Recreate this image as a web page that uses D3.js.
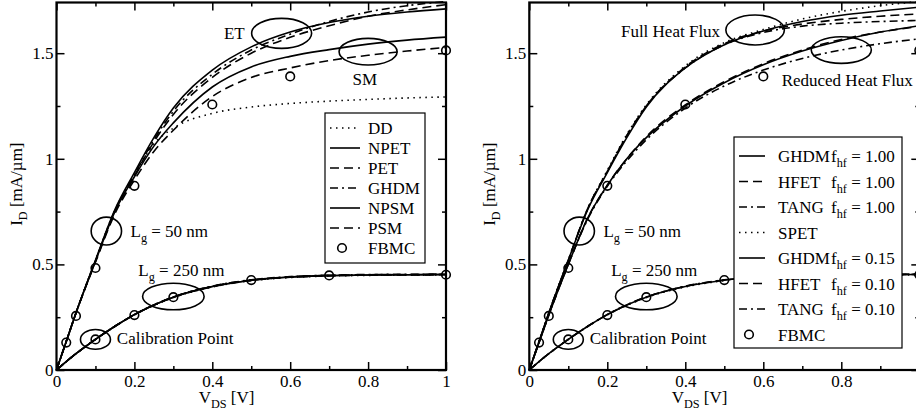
<!DOCTYPE html>
<html>
<head>
<meta charset="utf-8">
<script src="https://cdn.jsdelivr.net/npm/d3@7"></script>
<style>
 body { margin: 0; background: #fff; }
</style>
</head>
<body>
<script>
 // drain voltage grid shared by all curves
 var vds = [0, 0.025, 0.05, 0.1, 0.15, 0.2, 0.25, 0.3, 0.4, 0.5, 0.6, 0.7, 0.8, 0.9, 1.0];

 // left panel, Lg = 50 nm
 var dd50   = [0, 0.135, 0.27, 0.52, 0.755, 0.92, 1.07, 1.145, 1.215, 1.245, 1.262, 1.273, 1.281, 1.288, 1.293];
 var npet50 = [0, 0.135, 0.27, 0.52, 0.76, 0.935, 1.10, 1.24, 1.42, 1.53, 1.60, 1.645, 1.675, 1.695, 1.71];
 var pet50  = [0, 0.135, 0.27, 0.515, 0.75, 0.92, 1.08, 1.21, 1.385, 1.50, 1.575, 1.63, 1.675, 1.705, 1.73];
 var ghdm50 = [0, 0.135, 0.27, 0.515, 0.755, 0.925, 1.09, 1.225, 1.40, 1.515, 1.59, 1.65, 1.695, 1.725, 1.745];
 var npsm50 = [0, 0.135, 0.27, 0.515, 0.75, 0.915, 1.06, 1.17, 1.34, 1.435, 1.485, 1.517, 1.543, 1.562, 1.576];
 var psm50  = [0, 0.135, 0.27, 0.51, 0.74, 0.90, 1.035, 1.135, 1.295, 1.385, 1.43, 1.465, 1.49, 1.51, 1.527];

 // left panel, Lg = 250 nm
 var dd250   = [0, 0.04, 0.077, 0.145, 0.206, 0.261, 0.306, 0.343, 0.393, 0.423, 0.438, 0.445, 0.448, 0.449, 0.45];
 var npet250 = [0, 0.04, 0.077, 0.145, 0.207, 0.262, 0.308, 0.345, 0.395, 0.425, 0.44, 0.447, 0.45, 0.451, 0.452];
 var pet250  = [0, 0.04, 0.077, 0.145, 0.207, 0.262, 0.308, 0.345, 0.396, 0.426, 0.441, 0.448, 0.451, 0.452, 0.453];
 var ghdm250 = [0, 0.04, 0.077, 0.145, 0.207, 0.263, 0.309, 0.346, 0.397, 0.427, 0.442, 0.449, 0.452, 0.453, 0.454];
 var npsm250 = [0, 0.04, 0.077, 0.145, 0.207, 0.262, 0.308, 0.345, 0.395, 0.425, 0.44, 0.447, 0.45, 0.451, 0.452];
 var psm250  = [0, 0.04, 0.077, 0.145, 0.207, 0.262, 0.307, 0.344, 0.394, 0.424, 0.439, 0.446, 0.449, 0.45, 0.451];

 // right panel, Lg = 50 nm
 var ghdm1_50  = [0, 0.135, 0.27, 0.52, 0.76, 0.935, 1.10, 1.245, 1.43, 1.54, 1.605, 1.65, 1.68, 1.70, 1.718];
 var hfet1_50  = [0, 0.135, 0.27, 0.52, 0.765, 0.94, 1.11, 1.25, 1.435, 1.545, 1.605, 1.638, 1.66, 1.675, 1.686];
 var tang1_50  = [0, 0.135, 0.27, 0.52, 0.765, 0.94, 1.11, 1.25, 1.43, 1.54, 1.598, 1.628, 1.642, 1.65, 1.655];
 var spet50    = [0, 0.135, 0.27, 0.52, 0.765, 0.945, 1.115, 1.255, 1.44, 1.55, 1.612, 1.662, 1.698, 1.725, 1.745];
 var ghdm15_50 = [0, 0.13, 0.26, 0.50, 0.72, 0.875, 1.0, 1.10, 1.25, 1.36, 1.445, 1.51, 1.56, 1.60, 1.63];
 var hfet10_50 = [0, 0.13, 0.26, 0.50, 0.72, 0.875, 1.0, 1.105, 1.255, 1.365, 1.45, 1.515, 1.565, 1.60, 1.627];
 var tang10_50 = [0, 0.13, 0.26, 0.50, 0.715, 0.87, 0.99, 1.09, 1.24, 1.345, 1.42, 1.475, 1.515, 1.545, 1.568];

 // FBMC reference points
 var fbmcV50  = [0.025, 0.05, 0.1, 0.2, 0.4, 0.6, 1.0];
 var fbmcI50  = [0.13, 0.256, 0.483, 0.872, 1.257, 1.39, 1.513];
 var fbmcV250 = [0.1, 0.2, 0.3, 0.5, 0.7, 1.0];
 var fbmcI250 = [0.145, 0.26, 0.345, 0.426, 0.448, 0.451];

 var xTicks = [0, 0.2, 0.4, 0.6, 0.8, 1];
 var xTickLabels = ["0", "0.2", "0.4", "0.6", "0.8", "1"];
 var xTickLabelsRight = ["0", "0.2", "0.4", "0.6", "0.8", ""];
 var xMinor = [0.1, 0.3, 0.5, 0.7, 0.9];
 var yTicks = [0, 0.5, 1, 1.5];
 var yTickLabels = ["0", "0.5", "1", "1.5"];
 var yMinor = [0.25, 0.75, 1.25];

 var dashes = {solid: null, dashed: "9,5", dashdot: "8,4,2,4", dotted: "1.5,4.5"};
 var serif = "'Liberation Serif'";

 var w = 916;
 var h = 416;
 var svg = d3.select("body")
         .append("svg")
         .attr("width", w)
         .attr("height", h);

 function txt(sel, x, y) {
     return sel.append("text").attr("x", x).attr("y", y)
             .attr("font-size", 17).style("font-family", serif).attr("fill", "#000");
 }
 function sub(t, main, s, rest) {
     t.append("tspan").text(main);
     t.append("tspan").attr("font-size", "0.72em").attr("dy", 5).text(s);
     if (rest) t.append("tspan").attr("dy", -5).text(rest);
 }

 function drawPanel(x0, x1, series, xLabels) {
     var x = d3.scaleLinear().domain([0, 1]).range([x0, x1]);
     var y = d3.scaleLinear().domain([0, 1.74]).range([370, 2.5]);
     var g = svg.append("g");

     var line = d3.line()
             .x(function (d) { return x(d[0]); })
             .y(function (d) { return y(d[1]); })
             .curve(d3.curveMonotoneX);

     g.selectAll("path.curve")
             .data(series)
             .enter()
             .append("path")
             .attr("class", "curve")
             .attr("d", function (s) {
                 return line(vds.map(function (v, i) { return [v, s.vals[i]]; }));
             })
             .attr("fill", "none")
             .attr("stroke", "#000")
             .attr("stroke-width", 1.6)
             .attr("stroke-dasharray", function (s) { return dashes[s.style]; });

     var pts = fbmcV50.map(function (v, i) { return [v, fbmcI50[i]]; })
             .concat(fbmcV250.map(function (v, i) { return [v, fbmcI250[i]]; }));
     g.selectAll("circle.fbmc")
             .data(pts)
             .enter()
             .append("circle")
             .attr("class", "fbmc")
             .attr("cx", function (d) { return x(d[0]); })
             .attr("cy", function (d) { return y(d[1]); })
             .attr("r", 4.3)
             .attr("fill", "none")
             .attr("stroke", "#000")
             .attr("stroke-width", 1.6);

     // axes, ticks pointing inward on all four sides
     function ax(a, tx, ty, len, vals, labels) {
         var sel = g.append("g")
                 .attr("transform", "translate(" + tx + "," + ty + ")")
                 .call(a.tickValues(vals).tickSize(-len).tickPadding(5)
                         .tickFormat(function (d, i) { return labels ? labels[i] : ""; }));
         sel.select(".domain").remove();
         sel.selectAll("line").attr("stroke", "#000").attr("stroke-width", 1.5);
         sel.selectAll("text").attr("font-size", 17).style("font-family", serif).attr("fill", "#000");
         return sel;
     }
     ax(d3.axisBottom(x), 0, y(0), 8, xTicks, xLabels);
     ax(d3.axisBottom(x), 0, y(0), 4, xMinor);
     ax(d3.axisTop(x), 0, y.range()[1], 8, xTicks);
     ax(d3.axisTop(x), 0, y.range()[1], 4, xMinor);
     ax(d3.axisLeft(y), x0, 0, 8, yTicks, yTickLabels).selectAll("text").attr("dx", 2);
     ax(d3.axisLeft(y), x0, 0, 4, yMinor);
     ax(d3.axisRight(y), x1, 0, 8, yTicks);
     ax(d3.axisRight(y), x1, 0, 4, yMinor);

     g.append("rect")
             .attr("x", x0).attr("y", y.range()[1])
             .attr("width", x1 - x0).attr("height", y(0) - y.range()[1])
             .attr("fill", "none").attr("stroke", "#000").attr("stroke-width", 2.2);

     // axis titles
     sub(txt(g, x(0.365), 403), "V", "DS", "  [V]");
     var yt = txt(g, 0, 0)
             .attr("transform", "translate(" + (x0 - 34.5) + "," + y(0.88) + ") rotate(-90)")
             .attr("text-anchor", "middle");
     sub(yt, "I", "D", "  [mA/\u00b5m]");

     return {g: g, x: x, y: y};
 }

 function ellipse(p, cx, cy, rx, ry) {
     p.g.append("ellipse")
             .attr("cx", p.x(cx)).attr("cy", p.y(cy))
             .attr("rx", p.x(cx + rx) - p.x(cx)).attr("ry", p.y(cy) - p.y(cy + ry))
             .attr("fill", "none").attr("stroke", "#000").attr("stroke-width", 1.6);
 }
 function label(p, vx, vy) {
     return txt(p.g, p.x(vx), p.y(vy));
 }
 function commonNotes(p) {
     ellipse(p, 0.128, 0.658, 0.039, 0.066);
     sub(label(p, 0.19, 0.632), "L", "g", " = 50 nm");
     ellipse(p, 0.3, 0.348, 0.079, 0.063);
     sub(label(p, 0.21, 0.445), "L", "g", " = 250 nm");
     ellipse(p, 0.1, 0.145, 0.0385, 0.047);
     label(p, 0.155, 0.123).text("Calibration Point");
 }

 function drawLegend(p, bx, by, bw, bh, rows, rowY0, rowStep, sx0, sx1, tx, fx) {
     p.g.append("rect").attr("x", bx).attr("y", by).attr("width", bw).attr("height", bh)
             .attr("fill", "#fff").attr("stroke", "#000").attr("stroke-width", 1.2);
     rows.forEach(function (r, i) {
         var ry = rowY0 + i * rowStep;
         if (r.style === "circle") {
             p.g.append("circle").attr("cx", (sx0 + sx1) / 2 - 3).attr("cy", ry).attr("r", 4.3)
                     .attr("fill", "none").attr("stroke", "#000").attr("stroke-width", 1.6);
         } else {
             p.g.append("line").attr("x1", sx0).attr("x2", sx1).attr("y1", ry).attr("y2", ry)
                     .attr("stroke", "#000").attr("stroke-width", 1.6)
                     .attr("stroke-dasharray", dashes[r.style]);
         }
         txt(p.g, tx, ry + 6).text(r.name);
         if (r.f) {
             sub(txt(p.g, fx, ry + 6), "f", "hf", " = " + r.f);
         }
     });
 }

 // left panel
 var left = drawPanel(56.5, 446, [
     {vals: dd50, style: "dotted"}, {vals: npet50, style: "solid"}, {vals: pet50, style: "dashed"},
     {vals: ghdm50, style: "dashdot"}, {vals: npsm50, style: "solid"}, {vals: psm50, style: "dashed"},
     {vals: dd250, style: "dotted"}, {vals: npet250, style: "solid"}, {vals: pet250, style: "dashed"},
     {vals: ghdm250, style: "dashdot"}, {vals: npsm250, style: "solid"}, {vals: psm250, style: "dashed"}
 ], xTickLabels);
 ellipse(left, 0.578, 1.594, 0.077, 0.071);
 label(left, 0.43, 1.569).text("ET");
 ellipse(left, 0.8, 1.507, 0.0745, 0.063);
 label(left, 0.76, 1.349).text("SM");
 commonNotes(left);
 drawLegend(left, 325, 113, 100, 150, [
     {name: "DD", style: "dotted"}, {name: "NPET", style: "solid"}, {name: "PET", style: "dashed"},
     {name: "GHDM", style: "dashdot"}, {name: "NPSM", style: "solid"}, {name: "PSM", style: "dashed"},
     {name: "FBMC", style: "circle"}
 ], 128, 20, 330, 360, 368);

 // right panel (its right edge falls just outside the picture)
 var right = drawPanel(529.3, 919.3, [
     {vals: ghdm1_50, style: "solid"}, {vals: hfet1_50, style: "dashed"}, {vals: tang1_50, style: "dashdot"},
     {vals: spet50, style: "dotted"}, {vals: ghdm15_50, style: "solid"}, {vals: hfet10_50, style: "dashed"},
     {vals: tang10_50, style: "dashdot"},
     {vals: npet250, style: "solid"}, {vals: pet250, style: "dashed"}, {vals: ghdm250, style: "dashdot"},
     {vals: dd250, style: "dotted"}
 ], xTickLabelsRight);
 ellipse(right, 0.579, 1.61, 0.075, 0.071);
 label(right, 0.235, 1.576).text("Full Heat Flux");
 ellipse(right, 0.80, 1.515, 0.077, 0.063);
 label(right, 0.647, 1.347).text("Reduced Heat Flux");
 commonNotes(right);
 drawLegend(right, 734, 137, 168, 211, [
     {name: "GHDM", style: "solid", f: "1.00"}, {name: "HFET", style: "dashed", f: "1.00"},
     {name: "TANG", style: "dashdot", f: "1.00"}, {name: "SPET", style: "dotted"},
     {name: "GHDM", style: "solid", f: "0.15"}, {name: "HFET", style: "dashed", f: "0.10"},
     {name: "TANG", style: "dashdot", f: "0.10"}, {name: "FBMC", style: "circle"}
 ], 156, 25.5, 739, 765, 778, 831);
</script>
</body>
</html>
